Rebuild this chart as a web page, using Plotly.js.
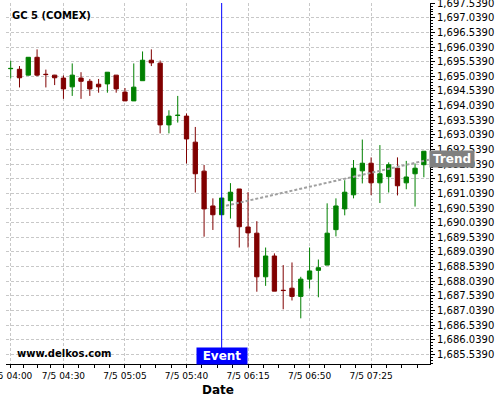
<!DOCTYPE html>
<html>
<head>
<meta charset="utf-8">
<script src="https://cdn.plot.ly/plotly-3.0.1.min.js"></script>
<style>html,body{margin:0;padding:0;background:#fff;}#chart{width:500px;height:400px;}</style>
</head>
<body>
<div id="chart"></div>
<script>
// ---- data ----
const times = [
 '2024-07-05 04:00','2024-07-05 04:05','2024-07-05 04:10','2024-07-05 04:15','2024-07-05 04:20','2024-07-05 04:25',
 '2024-07-05 04:30','2024-07-05 04:35','2024-07-05 04:40','2024-07-05 04:45','2024-07-05 04:50','2024-07-05 04:55',
 '2024-07-05 05:00','2024-07-05 05:05','2024-07-05 05:10','2024-07-05 05:15','2024-07-05 05:20','2024-07-05 05:25',
 '2024-07-05 05:30','2024-07-05 05:35','2024-07-05 05:40','2024-07-05 05:45','2024-07-05 05:50','2024-07-05 05:55',
 '2024-07-05 06:00','2024-07-05 06:05','2024-07-05 06:10','2024-07-05 06:15','2024-07-05 06:20','2024-07-05 06:25',
 '2024-07-05 06:30','2024-07-05 06:35','2024-07-05 06:40','2024-07-05 06:45','2024-07-05 06:50','2024-07-05 06:55',
 '2024-07-05 07:00','2024-07-05 07:05','2024-07-05 07:10','2024-07-05 07:15','2024-07-05 07:20','2024-07-05 07:25',
 '2024-07-05 07:30','2024-07-05 07:35','2024-07-05 07:40','2024-07-05 07:45','2024-07-05 07:50','2024-07-05 07:55'
];
const openV  = [1695.30,1695.28,1695.08,1695.69,1695.11,1695.08,1694.98,1694.68,1694.98,1694.87,1694.77,1694.78,
                1695.08,1694.50,1694.20,1694.89,1695.59,1695.49,1693.38,1693.70,1693.68,1692.79,1691.80,1690.61,
                1690.31,1690.79,1691.19,1689.89,1689.68,1688.19,1688.90,1687.73,1687.80,1687.52,1688.11,1688.41,
                1688.59,1689.80,1690.51,1690.99,1691.81,1692.07,1691.40,1691.61,1691.90,1691.40,1691.71,1692.02];
const highV  = [1695.57,1695.39,1695.70,1695.96,1695.27,1695.09,1695.07,1695.48,1695.18,1694.95,1694.95,1695.18,
                1695.08,1694.64,1695.48,1695.89,1695.96,1695.58,1693.88,1694.37,1693.77,1693.31,1692.01,1690.87,
                1690.88,1691.39,1691.19,1691.08,1690.09,1689.19,1688.99,1688.59,1688.68,1688.19,1689.19,1688.78,
                1690.70,1690.87,1691.49,1692.18,1692.88,1692.27,1692.69,1692.10,1692.27,1692.15,1692.06,1692.48];
const lowV   = [1694.97,1694.66,1695.07,1695.04,1694.66,1694.74,1694.27,1694.37,1694.27,1694.37,1694.48,1694.48,
                1694.48,1694.20,1694.20,1694.89,1695.39,1693.09,1693.09,1693.46,1692.06,1691.07,1689.56,1689.79,
                1690.31,1690.18,1689.19,1689.19,1687.68,1687.88,1687.70,1687.08,1687.38,1686.77,1687.79,1687.49,
                1688.59,1689.57,1690.29,1690.87,1691.38,1690.98,1690.71,1691.07,1690.97,1691.18,1690.59,1691.59];
const closeV = [1695.31,1694.99,1695.69,1695.08,1695.10,1694.99,1694.61,1695.08,1694.87,1694.61,1694.68,1695.18,
                1694.61,1694.20,1694.67,1695.59,1695.50,1693.38,1693.68,1693.71,1692.90,1691.71,1690.51,1690.31,
                1690.88,1691.08,1689.90,1689.69,1688.19,1688.90,1687.70,1687.72,1687.52,1688.11,1688.39,1688.50,
                1689.68,1690.61,1691.08,1691.90,1692.07,1691.40,1691.71,1692.02,1691.30,1691.60,1691.90,1692.48];

const trendX = ['2024-07-05 06:02:30','2024-07-05 08:00'];
const trendY = [1690.62, 1692.22];

const eventTime = '2024-07-05 06:00';
const tickTimes = ['2024-07-05 04:00','2024-07-05 04:30','2024-07-05 05:05','2024-07-05 05:40',
                   '2024-07-05 06:15','2024-07-05 06:50','2024-07-05 07:25'];
const chartTitle = 'GC 5 (COMEX)';
const watermark = 'www.delkos.com';

// ---- minor tick positions (quarters between major ticks) ----
function ms(s){ return new Date(s.replace(' ','T')+'Z').getTime(); }
function fmt(t){ return new Date(t).toISOString().replace('T',' ').slice(0,19); }
const minorVals = [];
for (let i=0;i<tickTimes.length;i++){
  const a = ms(tickTimes[i]);
  const b = i<tickTimes.length-1 ? ms(tickTimes[i+1]) : a + (ms(tickTimes[i]) - ms(tickTimes[i-1]));
  for (let k=1;k<4;k++) minorVals.push(fmt(a + (b-a)*k/4));
}

const gridColor = '#c8c8c8';
const traces = [
  {type:'scatter', mode:'lines', x:trendX, y:trendY,
   line:{color:'#a0a0a0', width:2, dash:'3px,2px'}, hoverinfo:'skip', showlegend:false},
  {type:'candlestick', x:times, open:openV, high:highV, low:lowV, close:closeV,
   increasing:{line:{color:'#008000', width:1}, fillcolor:'#008000'},
   decreasing:{line:{color:'#800000', width:1}, fillcolor:'#800000'},
   whiskerwidth:0, hoverinfo:'skip', showlegend:false}
];

const layout = {
  width:500, height:400,
  margin:{l:6, r:70, t:3, b:36},
  paper_bgcolor:'#ffffff', plot_bgcolor:'#ffffff',
  font:{family:'DejaVu Sans', size:10, color:'#000'},
  showlegend:false,
  boxgap:0.3,
  xaxis:{
    type:'date',
    range:['2024-07-05 03:57:19.5','2024-07-05 07:58:30'],
    rangeslider:{visible:false},
    tickmode:'array', tickvals:tickTimes, tickformat:'%-m/%-d %H:%M',
    tickfont:{family:'DejaVu Sans', size:9, color:'#000'},
    ticklabeloverflow:'allow',
    ticks:'outside', ticklen:3, tickcolor:'#000',
    showline:true, linecolor:'#000', linewidth:1,
    showgrid:true, gridcolor:gridColor, griddash:'3px,2px', gridwidth:1,
    zeroline:false,
    minor:{tickmode:'array', tickvals:minorVals, ticks:'outside', ticklen:3, tickcolor:'#000', showgrid:false},
    title:{text:'<b>Date</b>', font:{family:'DejaVu Sans', size:12, color:'#000'}, standoff:5}
  },
  yaxis:{
    side:'right',
    range:[1685.21, 1697.545],
    tick0:1685.539, dtick:0.5, tickformat:',.4f',
    tickfont:{family:'DejaVu Sans', size:10, color:'#000'},
    ticklabeloverflow:'allow',
    ticks:'outside', ticklen:4, tickcolor:'#000',
    showline:true, linecolor:'#000', linewidth:1,
    showgrid:true, gridcolor:gridColor, griddash:'3px,2px', gridwidth:1,
    zeroline:false,
    minor:{dtick:0.1, tick0:1685.539, ticks:'outside', ticklen:2, tickcolor:'#000', showgrid:false}
  },
  shapes:[
    {type:'line', xref:'x', yref:'paper', x0:eventTime, x1:eventTime, y0:0, y1:1,
     line:{color:'#0000ff', width:1}}
  ],
  annotations:[
    {xref:'paper', yref:'paper', x:0.0094, y:0.9654, xanchor:'left', yanchor:'middle',
     text:'<b>'+chartTitle+'</b>', showarrow:false, font:{family:'DejaVu Sans', size:10, color:'#000'}},
    {xref:'paper', yref:'paper', x:0.0212, y:0.0285, xanchor:'left', yanchor:'middle',
     text:'<b>'+watermark+'</b>', showarrow:false, font:{family:'DejaVu Sans', size:10, color:'#000'}},
    {xref:'x', yref:'paper', x:eventTime, y:0.0235, xanchor:'center', yanchor:'middle',
     text:'<b>Event</b>', showarrow:false, bgcolor:'#0000ff', borderpad:0, width:50, height:16,
     font:{family:'DejaVu Sans', size:12, color:'#fff'}},
    {xref:'paper', yref:'y', x:1.052, y:trendY[1], xanchor:'center', yanchor:'middle',
     text:'<b>Trend</b>', showarrow:false, bgcolor:'#808080', borderpad:0, width:44, height:16,
     font:{family:'DejaVu Sans', size:12, color:'#fff'}}
  ]
};

Plotly.newPlot('chart', traces, layout, {staticPlot:true, displayModeBar:false});
</script>
</body>
</html>
